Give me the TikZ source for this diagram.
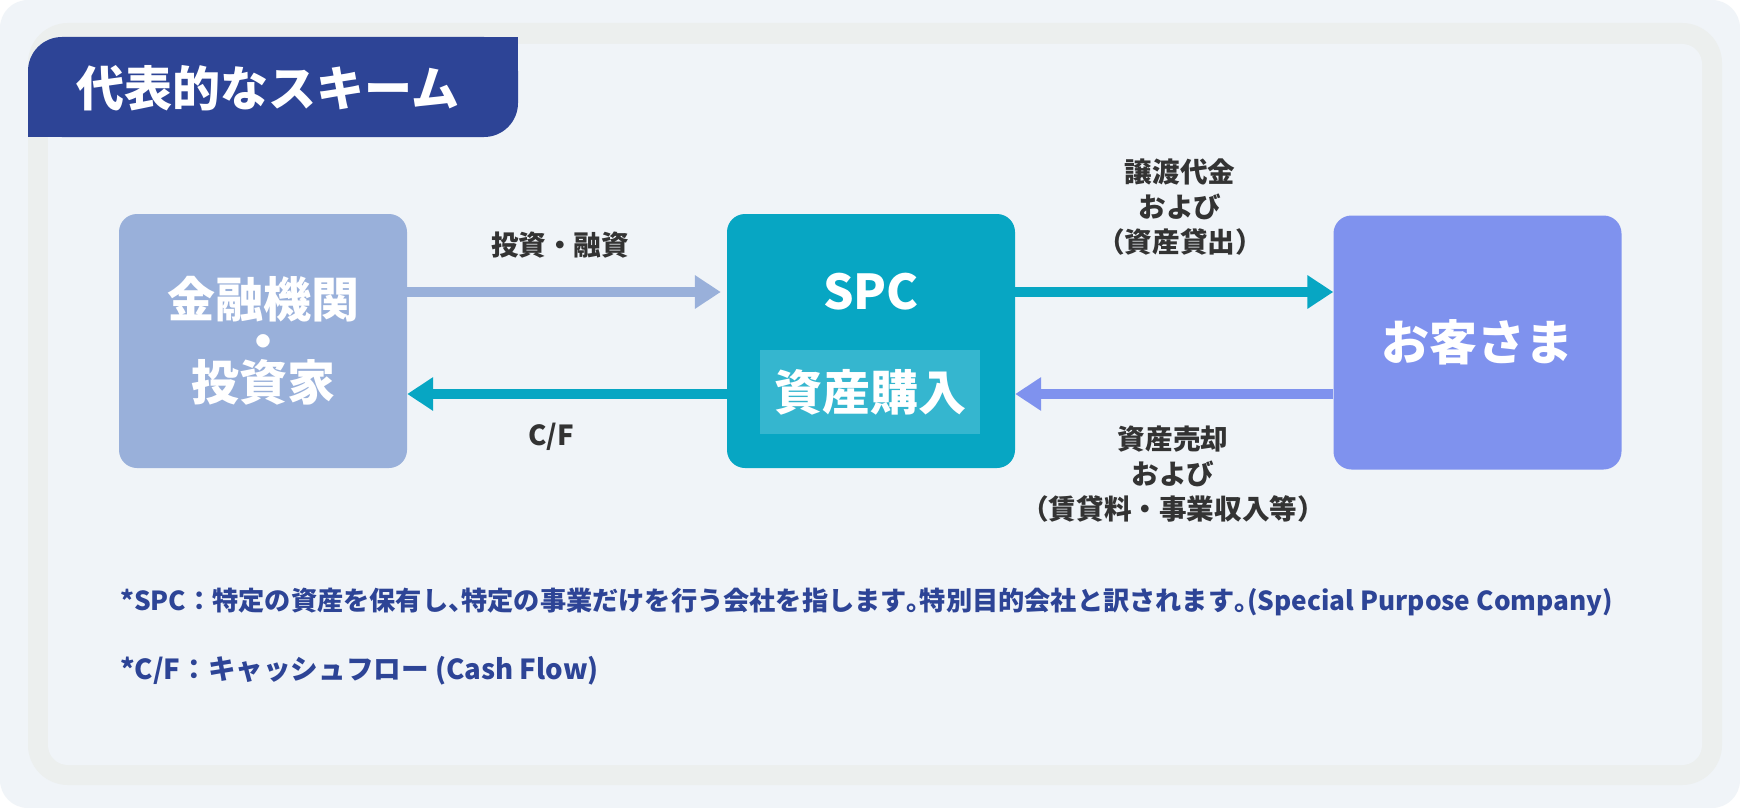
\documentclass[tikz,border=0pt]{standalone}
\usepackage{fontspec}
\setmainfont{Noto Sans CJK JP}
\usetikzlibrary{arrows.meta}
\newcommand\tightls{\setlength{\lineskiplimit}{-100pt}}
\newcommand\halfp[1]{\makebox[0.5em][l]{#1}}
\definecolor{pagebg}{HTML}{F0F4F8}
\definecolor{framec}{HTML}{ECEFEE}
\definecolor{tabc}{HTML}{2D4496}
\definecolor{finc}{HTML}{99B0DA}
\definecolor{spcc}{HTML}{07A6C3}
\definecolor{innerc}{HTML}{35B6CF}
\definecolor{cliec}{HTML}{7F92EE}
\definecolor{labc}{HTML}{333333}
\tikzset{
  box/.style={rounded corners=18pt, minimum width=288pt, minimum height=254pt, inner sep=0pt, text=white, align=center,
    font=\fontsize{48}{41.5}\selectfont\bfseries\tightls},
  flow/.style={line width=10pt, -{Triangle[length=26pt,width=32pt]}},
  lab/.style={text=labc, align=center, inner sep=0pt, font=\fontsize{27.6}{35}\selectfont\bfseries\tightls},
  note/.style={text=tabc, anchor=west, inner sep=0pt, font=\fontsize{26.2}{30}\selectfont\bfseries},
}
\begin{document}
\begin{tikzpicture}[x=1pt,y=-1pt]
\useasboundingbox (0,0) rectangle (1740,808);
\fill[white] (0,0) rectangle (1740,808);
\fill[pagebg, rounded corners=28pt] (0,0) rectangle (1740,808);
% frame
\fill[framec, rounded corners=40pt] (28,23) rectangle (1722,785);
\fill[pagebg, rounded corners=20pt] (48,44) rectangle (1702,765);
% title tab
\fill[tabc, rounded corners=34pt] (28,37) rectangle (518,137);
\fill[tabc] (480,37) rectangle (518,80);
\fill[tabc] (28,100) rectangle (70,137);
\node[text=white, inner sep=0pt, font=\fontsize{48}{48}\selectfont\bfseries] (title) at (268,88) {代表的なスキーム};
% boxes
\node[box, fill=finc] (fin) at (263,341) {金融機関\\・\\投資家};
\node[box, fill=spcc] (spc) at (871,341) {};
\node[text=white, inner sep=0pt, font=\fontsize{48}{48}\selectfont\bfseries] (spctitle) at (871,292) {SPC};
\node[fill=innerc, minimum width=220pt, minimum height=84pt, inner sep=0pt, text=white,
  font=\fontsize{48}{48}\selectfont\bfseries] (buy) at (870,392) {資産購入};
\node[box, fill=cliec] (cli) at (1477.5,342.5) {お客さま};
% arrow levels
\coordinate (ytop) at (0,292);
\coordinate (ybot) at (0,394);
\draw[flow, finc] (fin.east |- ytop) -- ([xshift=-6pt]spc.west |- ytop);
\draw[flow, spcc] (spc.west |- ybot) -- (fin.east |- ybot);
\draw[flow, spcc] (spc.east |- ytop) -- (cli.west |- ytop);
\draw[flow, cliec] (cli.west |- ybot) -- (spc.east |- ybot);
% labels
\node[lab] (linvest) at (560,245) {投資・融資};
\node[lab] (lcf) at (551,437) {C/F};
\node[lab] (ltrans) at (1180,207) {譲渡代金\\および\\（資産貸出）};
\node[lab] (lsale) at (1173,474) {資産売却\\および\\（賃貸料・事業収入等）};
% notes
\node[note] (n1) at (120,602) {*SPC：特定の資産を保有し\halfp{、}特定の事業だけを行う会社を指します\halfp{。}特別目的会社と訳されます\halfp{。}(Special Purpose Company)};
\node[note, font=\fontsize{27.6}{30}\selectfont\bfseries] (n2) at (120,671) {*C/F：キャッシュフロー (Cash Flow)};
\end{tikzpicture}
\end{document}
